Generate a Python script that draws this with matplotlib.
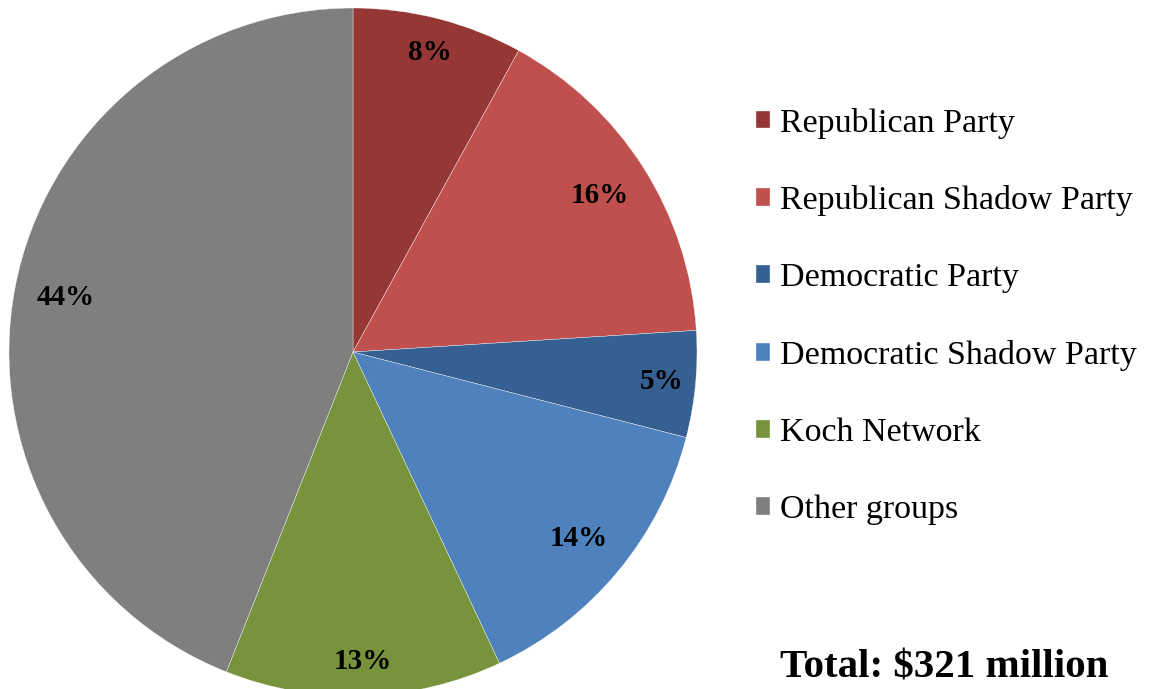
import numpy as np
import matplotlib
matplotlib.use("Agg")
import matplotlib.pyplot as plt

labels = ["Republican Party", "Republican Shadow Party", "Democratic Party",
          "Democratic Shadow Party", "Koch Network", "Other groups"]
shares = [8, 16, 5, 14, 13, 44]
colors = ["#953735", "#C0504D", "#376092", "#4F81BD", "#77933C", "#7F7F7F"]
label_dist = [0.90, 0.85, 0.90, 0.85, 0.90, 0.85]
total_text = "Total: $321 million"

plt.rcParams["font.family"] = ["Liberation Serif", "DejaVu Serif"]

W, H = 1152, 689
fig = plt.figure(figsize=(W / 100, H / 100), dpi=100)

# pie centre and radius in pixels
cx, cy, r = 353, H - 352, 344
ax = fig.add_axes([(cx - r) / W, (cy - r) / H, 2 * r / W, 2 * r / H])

wedges, _ = ax.pie(shares, colors=colors, startangle=90, counterclock=False,
                   radius=1, wedgeprops=dict(edgecolor="white", linewidth=0.25))
ax.set_xlim(-1, 1)
ax.set_ylim(-1, 1)
ax.set_aspect("equal")
ax.axis("off")

# percentage labels at each wedge's mid angle
for w, s, d in zip(wedges, shares, label_dist):
    ang = np.deg2rad((w.theta1 + w.theta2) / 2)
    ax.text(d * np.cos(ang), d * np.sin(ang), f"{s}%", ha="center", va="center",
            fontsize=21, fontweight="bold", color="black")

fig.legend(wedges, labels, loc="upper left", bbox_to_anchor=(742 / W, 1 - 94 / H),
           frameon=False, fontsize=24.5, handlelength=0.42, handleheight=0.42,
           handletextpad=0.3, labelspacing=1.37, borderaxespad=0)

fig.text(944 / W, 1 - 668 / H, total_text, ha="center", va="center",
         fontsize=29.5, fontweight="bold")

fig.savefig("out.png", dpi=100)
